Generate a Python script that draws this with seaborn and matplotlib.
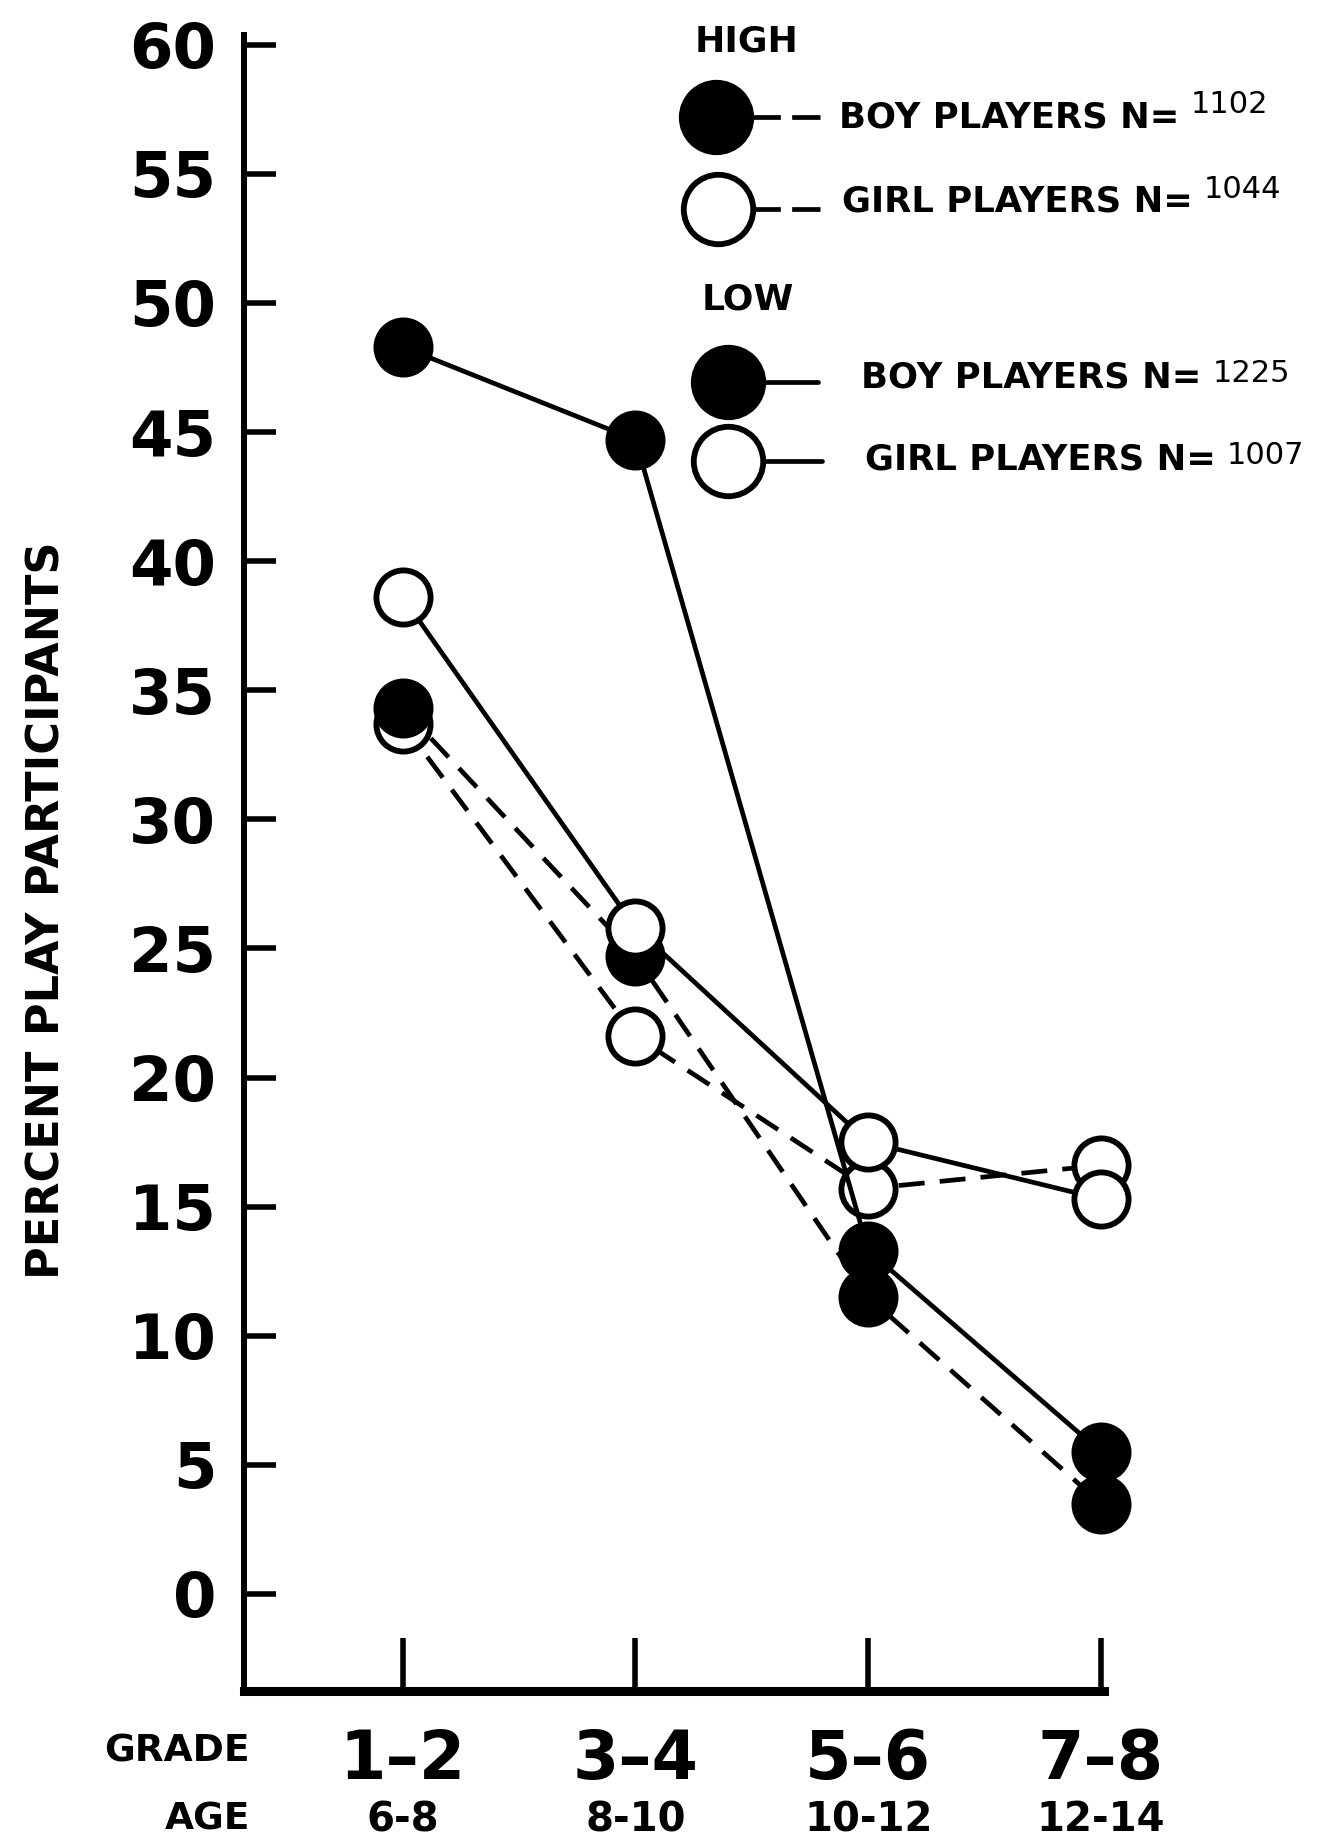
import matplotlib
matplotlib.use("Agg")
import matplotlib.pyplot as plt
import seaborn as sns
from matplotlib.lines import Line2D
from matplotlib.transforms import blended_transform_factory

# ---- data ----
grades = ["1\u20132", "3\u20134", "5\u20136", "7\u20138"]
ages = ["6-8", "8-10", "10-12", "12-14"]
y_ticks = [0, 5, 10, 15, 20, 25, 30, 35, 40, 45, 50, 55, 60]
high_boys = [34.3, 24.7, 11.5, 3.5]
high_girls = [33.7, 21.6, 15.7, 16.6]
low_boys = [48.3, 44.7, 13.3, 5.5]
low_girls = [38.6, 25.8, 17.5, 15.3]
n_high_boys, n_high_girls = "1102", "1044"
n_low_boys, n_low_girls = "1225", "1007"

sns.set_style("white")
plt.rcParams["font.family"] = ["DejaVu Sans"]
plt.rcParams["text.color"] = "black"
plt.rcParams["xtick.color"] = "black"
plt.rcParams["ytick.color"] = "black"
plt.rcParams["axes.labelcolor"] = "black"

W, H = 1328, 1841
fig = plt.figure(figsize=(W / 100, H / 100), dpi=100)
fig.patch.set_facecolor("white")

def fx(px):
    return px / W

def fy(py):
    return 1 - py / H

ax = fig.add_axes([fx(244), fy(1691), fx(1104) - fx(244), fy(35) - fy(1691)])
ax.set_facecolor("white")

xpos = list(range(len(grades)))
LW = 3.4
MS = 39
MEW = 4.2
dash = (0, (5.5, 3.2))

series = [
    (high_girls, dash, "white"),
    (high_boys, dash, "black"),
    (low_girls, "-", "white"),
    (low_boys, "-", "black"),
]
for vals, ls, fc in series:
    sns.lineplot(x=xpos, y=vals, ax=ax, color="black", linewidth=LW,
                 linestyle=ls, marker="o", markersize=MS,
                 markerfacecolor=fc, markeredgecolor="black",
                 markeredgewidth=MEW, sort=False, clip_on=False)

ax.set_xlim(-0.682, 3.013)
ax.set_ylim(-3.76, 60.38)

for s in ["top", "right"]:
    ax.spines[s].set_visible(False)
ax.spines["left"].set_linewidth(4.3)
ax.spines["bottom"].set_linewidth(6.5)
ax.spines["left"].set_color("black")
ax.spines["bottom"].set_color("black")

ax.set_yticks(y_ticks)
ax.set_yticklabels([str(t) for t in y_ticks])
ax.tick_params(axis="y", direction="in", length=23, width=4, pad=20,
               labelsize=45, left=True, colors="black")
ax.set_xticks(xpos)
ax.set_xticklabels(grades)
ax.tick_params(axis="x", direction="in", length=38, width=4, pad=26,
               labelsize=48, bottom=True, colors="black")
for lab in ax.get_yticklabels() + ax.get_xticklabels():
    lab.set_fontweight("bold")

ax.set_xlabel("")
ax.set_ylabel("")

# age row
tr = blended_transform_factory(ax.transData, fig.transFigure)
for x, a in zip(xpos, ages):
    ax.text(x, fy(1820), a, transform=tr, ha="center", va="center",
            fontsize=29, fontweight="bold")
fig.text(fx(250), fy(1752), "GRADE", ha="right", va="center",
         fontsize=27, fontweight="bold")
fig.text(fx(250), fy(1820), "AGE", ha="right", va="center",
         fontsize=27, fontweight="bold")

# y label
fig.text(fx(47), fy(910), "PERCENT PLAY PARTICIPANTS", rotation=90,
         ha="center", va="center", fontsize=32, fontweight="bold")

# ---- legend ----
def legend_row(cx, cy, x0, x1, ls, fc, label, n, tx, ty, raise_n):
    fig.add_artist(Line2D([fx(x0), fx(x1)], [fy(cy), fy(cy)],
                          transform=fig.transFigure, color="black",
                          linewidth=LW, linestyle=ls))
    fig.add_artist(Line2D([fx(cx)], [fy(cy)], transform=fig.transFigure,
                          marker="o", markersize=50, markerfacecolor=fc,
                          markeredgecolor="black", markeredgewidth=MEW,
                          linestyle="none"))
    t = fig.text(fx(tx), fy(ty), label, ha="left", va="center",
                 fontsize=25.5, fontweight="bold")
    ax.annotate(n, xy=(1, 0.5), xycoords=t, xytext=(8, 9 if raise_n else 3),
                textcoords="offset points", ha="left", va="center",
                fontsize=22, fontweight="normal")

fig.text(fx(695), fy(41), "HIGH", ha="left", va="center", fontsize=26,
         fontweight="bold")
legend_row(716, 117, 752, 822, (0, (6, 2.4)), "black", "BOY PLAYERS N=",
           n_high_boys, 839, 117, True)
legend_row(718, 209, 752, 822, (0, (6, 2.4)), "white", "GIRL PLAYERS N=",
           n_high_girls, 842, 202, True)
fig.text(fx(702), fy(299), "LOW", ha="left", va="center", fontsize=26,
         fontweight="bold")
legend_row(728, 382, 760, 818, "-", "black", "BOY PLAYERS N=",
           n_low_boys, 861, 378, False)
legend_row(728, 461, 760, 822, "-", "white", "GIRL PLAYERS N=",
           n_low_girls, 865, 460, False)

fig.savefig("out.png", dpi=100, facecolor="white")
